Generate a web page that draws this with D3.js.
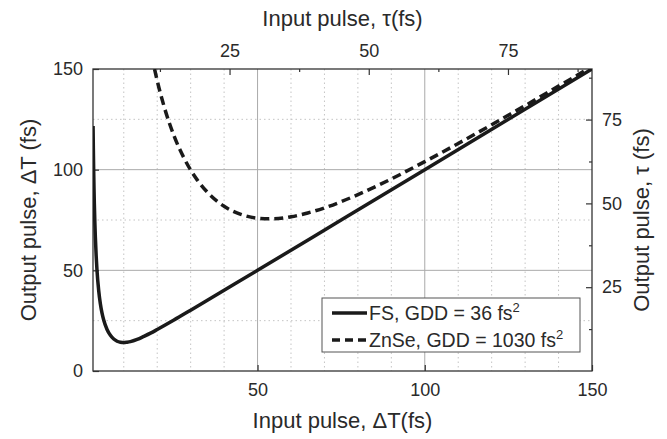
<!DOCTYPE html>
<html>
<head>
<meta charset="utf-8">
<script src="https://cdn.jsdelivr.net/npm/d3@7"></script>
<style>
  body { margin: 0; background: #fff; }
  svg text { font-family: "Liberation Sans", Arial, sans-serif; fill: #2a2a2a; }
  .tick-label { font-size: 18px; }
  .title { font-size: 22px; }
  .legend-text { font-size: 19.5px; }
</style>
</head>
<body>
<svg width="667" height="439"></svg>
<script>
// values (input pulse dT, output pulse dT, in fs)
const fsIn  = [0.82, 0.9, 1.0, 1.1, 1.2, 1.35, 1.5, 1.75, 2, 2.5, 3, 3.5, 4, 5, 6, 7, 8, 9, 10, 11, 12, 14, 16, 18, 20, 25, 30, 40, 50, 75, 100, 125, 150];
const fsOut = [121.7, 110.9, 99.8, 90.8, 83.2, 74.0, 66.6, 57.1, 49.9, 40.0, 33.4, 28.7, 25.3, 20.6, 17.7, 15.9, 14.8, 14.3, 14.1, 14.3, 14.6, 15.7, 17.2, 18.8, 20.6, 25.3, 30.2, 40.1, 50.0, 75.0, 100.0, 125.0, 150.0];

const znIn  = [19.2, 20, 22, 25, 28, 30, 32, 35, 40, 45, 50, 53.4, 55, 60, 65, 70, 80, 90, 100, 110, 120, 130, 140, 150];
const znOut = [150.0, 144.2, 131.7, 116.9, 105.8, 99.8, 94.8, 88.8, 81.8, 77.8, 75.9, 75.6, 75.6, 76.6, 78.5, 81.0, 87.6, 95.4, 104.0, 113.0, 122.3, 131.8, 141.5, 151.2];

const bottomTicks = [50, 100, 150];
const leftTicks = [0, 50, 100, 150];
const topTicks = [25, 50, 75];
const rightTicks = [25, 50, 75];

const legendLabels = [['FS, GDD = 36 fs', '2'], ['ZnSe, GDD = 1030 fs', '2']];

// FWHM of a gaussian = 1.665 * tau
const fwhm = 1.665;

const svg = d3.select('svg');

//margin conventions
const margin = { top: 69, left: 93, right: 75, bottom: 68 };
const width = 667 - margin.left - margin.right;
const height = 439 - margin.top - margin.bottom;

const g = svg.append('g')
  .attr('transform', `translate(${margin.left},${margin.top})`);

const xscale = d3.scaleLinear().domain([0.8, 150]).range([0, width]);
const yscale = d3.scaleLinear().domain([0, 150]).range([height, 0]);
const xtau = d3.scaleLinear().domain([0.8 / fwhm, 150 / fwhm]).range([0, width]);
const ytau = d3.scaleLinear().domain([0, 150 / fwhm]).range([height, 0]);

// grid
const minorX = d3.range(10, 150, 10).filter(d => d % 50 !== 0);
const minorY = [25, 75, 125];

g.selectAll('.vminor').data(minorX).enter().append('line')
  .attr('x1', d => xscale(d)).attr('x2', d => xscale(d))
  .attr('y1', 0).attr('y2', height)
  .attr('stroke', '#c4c4c4').attr('stroke-width', 1).attr('stroke-dasharray', '1.5,3');
g.selectAll('.hminor').data(minorY).enter().append('line')
  .attr('y1', d => yscale(d)).attr('y2', d => yscale(d))
  .attr('x1', 0).attr('x2', width)
  .attr('stroke', '#c4c4c4').attr('stroke-width', 1).attr('stroke-dasharray', '1.5,3');
g.selectAll('.vmajor').data([50, 100]).enter().append('line')
  .attr('x1', d => xscale(d)).attr('x2', d => xscale(d))
  .attr('y1', 0).attr('y2', height)
  .attr('stroke', '#aaa').attr('stroke-width', 1);
g.selectAll('.hmajor').data([50, 100]).enter().append('line')
  .attr('y1', d => yscale(d)).attr('y2', d => yscale(d))
  .attr('x1', 0).attr('x2', width)
  .attr('stroke', '#aaa').attr('stroke-width', 1);

// axes
const styleAxis = sel => {
  sel.select('.domain').remove();
  sel.selectAll('line').attr('stroke', '#333').attr('stroke-width', 1.2);
  sel.selectAll('text').attr('class', 'tick-label').style('font-size', '18px');
};

g.append('g').attr('transform', `translate(0,${height})`)
  .call(d3.axisBottom(xscale).tickValues(bottomTicks).tickSize(-6).tickPadding(12))
  .call(styleAxis);
g.append('g')
  .call(d3.axisLeft(yscale).tickValues(leftTicks).tickSize(-6).tickPadding(10))
  .call(styleAxis);
g.append('g')
  .call(d3.axisTop(xtau).tickValues(topTicks).tickSize(-6).tickPadding(12))
  .call(styleAxis);
g.append('g')
  .call(d3.axisTop(xtau).tickValues([12.5, 37.5, 62.5, 87.5]).tickSize(-3).tickFormat(''))
  .call(styleAxis);
g.append('g').attr('transform', `translate(${width},0)`)
  .call(d3.axisRight(ytau).tickValues(rightTicks).tickSize(-6).tickPadding(10))
  .call(styleAxis);
g.append('g').attr('transform', `translate(${width},0)`)
  .call(d3.axisRight(ytau).tickValues([12.5, 37.5, 62.5, 87.5]).tickSize(-3).tickFormat(''))
  .call(styleAxis);

// frame
g.append('rect')
  .attr('width', width).attr('height', height)
  .attr('fill', 'none').attr('stroke', '#333').attr('stroke-width', 1.3);

// curves
svg.append('clipPath').attr('id', 'clip')
  .append('rect').attr('width', width).attr('height', height);

const line = d3.line()
  .x(d => xscale(d[0]))
  .y(d => yscale(d[1]))
  .curve(d3.curveMonotoneX);

const plot = g.append('g').attr('clip-path', 'url(#clip)');
plot.append('path')
  .datum(d3.zip(fsIn, fsOut))
  .attr('d', line)
  .attr('fill', 'none').attr('stroke', '#1a1a1a').attr('stroke-width', 3.5);
plot.append('path')
  .datum(d3.zip(znIn, znOut))
  .attr('d', line)
  .attr('fill', 'none').attr('stroke', '#1a1a1a').attr('stroke-width', 3.5)
  .attr('stroke-dasharray', '9,5');

// legend
const lg = g.append('g').attr('transform', `translate(${322 - margin.left},${298 - margin.top})`);
lg.append('rect').attr('width', 258).attr('height', 54)
  .attr('fill', '#fff').attr('stroke', '#555').attr('stroke-width', 1);
legendLabels.forEach((lab, i) => {
  const y = 15 + i * 27;
  lg.append('line').attr('x1', 10).attr('x2', 45).attr('y1', y).attr('y2', y)
    .attr('stroke', '#1a1a1a').attr('stroke-width', 3.5)
    .attr('stroke-dasharray', i === 1 ? '8,5' : null);
  const t = lg.append('text').attr('class', 'legend-text')
    .attr('x', 47).attr('y', y + 7).text(lab[0]);
  t.append('tspan').attr('dy', -8).style('font-size', '13px').text(lab[1]);
});

// titles
svg.append('text').attr('class', 'title')
  .attr('x', margin.left + width / 2).attr('y', 26).attr('text-anchor', 'middle')
  .text('Input pulse, τ(fs)');
svg.append('text').attr('class', 'title')
  .attr('x', margin.left + width / 2).attr('y', 428).attr('text-anchor', 'middle')
  .text('Input pulse, ΔT(fs)');
svg.append('text').attr('class', 'title')
  .attr('transform', `translate(36,${margin.top + height / 2}) rotate(-90)`)
  .attr('text-anchor', 'middle')
  .text('Output pulse, ΔT (fs)');
svg.append('text').attr('class', 'title')
  .attr('transform', `translate(649,${margin.top + height / 2}) rotate(-90)`)
  .attr('text-anchor', 'middle')
  .text('Output pulse, τ (fs)');
</script>
</body>
</html>
